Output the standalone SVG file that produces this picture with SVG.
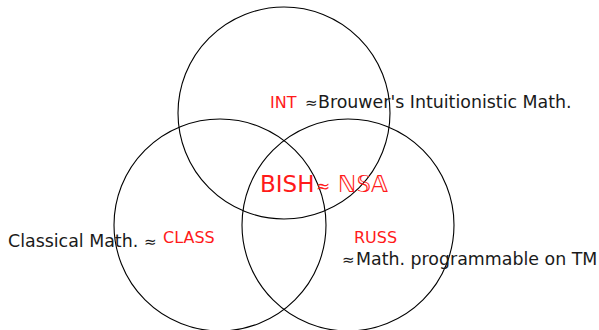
<svg xmlns="http://www.w3.org/2000/svg" width="599" height="330" viewBox="0 0 599 330">
  <style>
    .set { fill: none; stroke: #000; stroke-width: 1.1; }
    .txt { font-family: "DejaVu Sans", "Liberation Sans", sans-serif; font-size: 17.4px; fill: #1a1a1a; }
    .tag { font-family: "DejaVu Sans", "Liberation Sans", sans-serif; font-size: 16px; fill: #ff1a1a; }
    .big { font-family: "DejaVu Sans", "Liberation Sans", sans-serif; font-size: 23px; fill: #ff1a1a; }
    .approx { font-size: 15px; }
  </style>
  <rect width="599" height="330" fill="#fff"/>

  <!-- INT: intuitionistic mathematics -->
  <g id="int">
    <circle class="set" cx="284" cy="113" r="106"/>
    <text class="tag" x="270" y="108">INT</text>
    <text class="txt" y="108"><tspan class="approx" x="305">≈</tspan><tspan x="318">Brouwer's Intuitionistic Math.</tspan></text>
  </g>

  <!-- CLASS: classical mathematics -->
  <g id="class">
    <circle class="set" cx="220" cy="225" r="106"/>
    <text class="txt" y="247"><tspan x="8">Classical Math.</tspan><tspan class="approx" x="144">≈</tspan></text>
    <text class="tag" x="163" y="243">CLASS</text>
  </g>

  <!-- RUSS: Russian recursive mathematics -->
  <g id="russ">
    <circle class="set" cx="348" cy="225" r="106"/>
    <text class="tag" x="354" y="243">RUSS</text>
    <text class="txt" y="265"><tspan class="approx" x="342">≈</tspan><tspan x="356">Math. programmable on TM</tspan></text>
  </g>

  <!-- BISH: common core of the three -->
  <g id="bish">
    <text class="big" y="192"><tspan x="260">BISH</tspan><tspan x="316" font-size="17">≈</tspan><tspan x="338">ℕ𝕊𝔸</tspan></text>
  </g>

  <g id="connectors"/>
</svg>
